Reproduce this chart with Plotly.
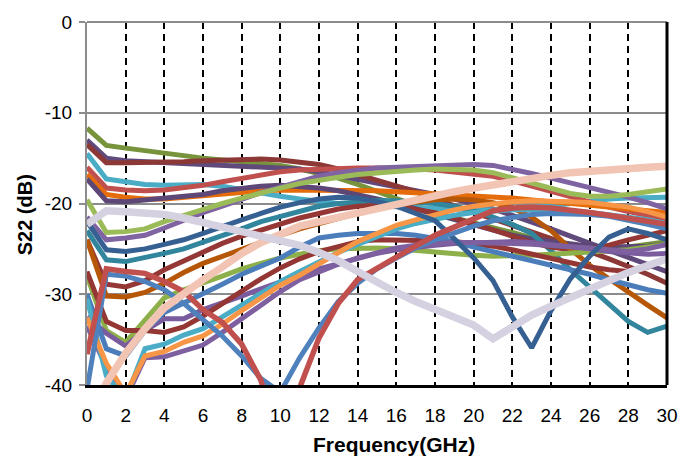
import plotly.graph_objects as go

freq = list(range(0, 31))
x_ticks = list(range(0, 31, 2))
y_ticks = [0, -10, -20, -30, -40]

s01 = [-11.7,-13.6,-13.9,-14.2,-14.5,-14.8,-15.0,-15.2,-15.4,-15.6,-15.8,-16.2,-16.7,-17.2,-17.9,-18.7,-19.5,-20.3,-21.0,-21.6,-22.1,-22.6,-23.2,-23.8,-24.3,-24.7,-25.0,-25.0,-24.8,-24.5,-24.2]
s02 = [-13.0,-15.0,-15.3,-15.4,-15.5,-15.5,-15.6,-15.7,-15.8,-15.9,-16.0,-16.2,-16.5,-16.9,-17.3,-17.8,-18.2,-18.6,-19.0,-19.5,-20.0,-20.6,-21.3,-22.0,-22.8,-23.6,-24.4,-25.2,-26.0,-26.8,-27.5]
s03 = [-13.5,-15.5,-15.5,-15.5,-15.4,-15.4,-15.3,-15.2,-15.1,-15.1,-15.2,-15.4,-15.7,-16.2,-16.8,-17.4,-18.0,-18.7,-19.5,-20.3,-21.0,-21.7,-22.4,-23.1,-23.8,-24.5,-25.3,-26.1,-26.9,-27.8,-28.8]
s04 = [-14.5,-17.3,-17.6,-17.9,-18.0,-17.9,-17.9,-18.1,-18.5,-18.8,-19.2,-19.5,-19.8,-20.0,-20.2,-20.3,-20.4,-20.5,-20.6,-20.7,-20.7,-20.7,-20.6,-20.5,-20.3,-20.0,-19.7,-19.5,-19.4,-19.3,-19.3]
s05 = [-16.0,-18.3,-18.5,-18.6,-18.5,-18.3,-18.0,-17.6,-17.2,-16.8,-16.5,-16.3,-16.2,-16.1,-16.1,-16.1,-16.1,-16.2,-16.3,-16.5,-16.7,-17.0,-17.5,-18.1,-18.7,-19.3,-19.9,-20.4,-20.9,-21.3,-21.7]
s06 = [-16.8,-19.0,-19.3,-19.5,-19.5,-19.3,-19.1,-18.9,-18.7,-18.6,-18.5,-18.5,-18.5,-18.5,-18.6,-18.6,-18.7,-18.8,-18.9,-19.0,-19.1,-19.2,-19.4,-19.6,-19.8,-20.0,-20.2,-20.4,-20.6,-20.8,-21.0]
s07 = [-17.3,-19.7,-19.8,-19.6,-19.4,-19.2,-19.0,-18.6,-18.3,-18.1,-18.0,-18.1,-18.3,-18.6,-19.0,-19.5,-20.0,-20.6,-21.2,-21.8,-22.4,-23.0,-23.5,-23.9,-24.2,-24.5,-24.7,-24.8,-24.8,-24.7,-24.5]
s08 = [-21.5,-24.0,-23.8,-23.5,-22.7,-21.8,-21.0,-20.3,-19.5,-18.8,-18.2,-17.6,-17.0,-16.6,-16.3,-16.1,-16.0,-15.9,-15.8,-15.7,-15.7,-15.8,-16.2,-16.7,-17.2,-17.7,-18.2,-18.7,-19.3,-19.9,-20.6]
s09 = [-19.6,-23.2,-23.1,-22.8,-22.0,-21.3,-20.6,-20.0,-19.4,-18.8,-18.3,-17.8,-17.4,-17.1,-16.8,-16.6,-16.4,-16.3,-16.2,-16.2,-16.3,-16.6,-17.2,-17.8,-18.4,-18.9,-19.2,-19.2,-19.0,-18.7,-18.4]
s10 = [-22.0,-25.1,-25.3,-25.0,-24.5,-24.0,-23.3,-22.5,-21.8,-21.1,-20.4,-19.9,-19.5,-19.3,-19.4,-19.8,-20.3,-21.1,-21.9,-23.9,-26.0,-28.5,-32.5,-35.9,-31.8,-28.3,-25.8,-23.7,-22.8,-23.3,-24.0]
s11 = [-23.0,-26.2,-26.4,-26.0,-25.5,-25.0,-24.3,-23.5,-22.8,-22.0,-21.4,-20.8,-20.3,-20.0,-19.8,-19.7,-19.7,-19.8,-20.0,-20.3,-20.8,-21.5,-22.3,-23.3,-25.2,-27.3,-29.2,-31.2,-33.0,-34.2,-33.5]
s12 = [-24.0,-28.9,-29.2,-28.5,-27.3,-26.3,-25.3,-24.4,-23.6,-22.9,-22.2,-21.6,-21.1,-20.6,-20.3,-20.2,-20.3,-20.6,-21.0,-21.6,-22.2,-22.9,-23.6,-24.3,-24.8,-25.1,-25.0,-24.6,-24.0,-23.5,-23.0]
s13 = [-24.0,-30.2,-30.3,-29.8,-28.8,-27.6,-26.6,-25.8,-25.0,-24.2,-23.5,-22.8,-22.2,-21.6,-21.0,-20.5,-20.1,-19.8,-19.6,-19.5,-19.6,-19.9,-20.5,-21.5,-23.0,-25.0,-26.8,-28.3,-29.8,-31.2,-32.6]
s14 = [-28.0,-34.0,-35.3,-32.8,-30.4,-29.5,-28.8,-28.0,-27.2,-26.6,-26.0,-25.6,-25.2,-25.0,-24.9,-24.9,-25.0,-25.2,-25.4,-25.6,-25.7,-25.8,-25.8,-25.7,-25.6,-25.5,-25.4,-25.3,-25.1,-24.8,-24.5]
s15 = [-32.5,-34.3,-35.7,-34.0,-32.7,-32.7,-31.7,-31.0,-30.2,-29.4,-28.6,-27.9,-27.2,-26.6,-26.0,-25.5,-25.1,-24.8,-24.6,-24.4,-24.3,-24.2,-24.2,-24.3,-24.5,-24.7,-25.0,-25.3,-25.5,-25.6,-25.5]
s16 = [-27.5,-33.0,-34.0,-34.0,-34.2,-33.6,-32.4,-31.0,-29.6,-28.3,-27.1,-26.1,-25.3,-24.7,-24.2,-24.0,-24.0,-24.0,-24.1,-24.2,-24.4,-24.7,-25.1,-25.6,-26.1,-26.6,-27.0,-27.3,-27.5,-27.0,-26.0]
s17 = [-36.6,-27.2,-27.5,-27.7,-28.6,-29.7,-31.7,-33.1,-35.5,-39.5,-47.0,-40.3,-34.8,-31.0,-28.4,-27.1,-25.9,-24.7,-23.5,-22.6,-21.7,-20.8,-20.5,-20.4,-20.5,-20.7,-21.0,-21.3,-21.6,-22.0,-22.3]
s18 = [-40.5,-27.8,-28.0,-28.6,-29.5,-31.0,-32.8,-34.6,-36.8,-39.3,-40.8,-37.0,-33.7,-30.8,-28.8,-27.2,-26.0,-24.9,-24.0,-23.2,-22.5,-21.9,-21.5,-21.2,-21.1,-21.1,-21.2,-21.4,-21.8,-22.3,-22.8]
s19 = [-32.6,-37.6,-41.0,-36.8,-36.3,-35.3,-34.6,-33.3,-31.8,-30.4,-29.0,-27.9,-26.6,-25.4,-24.2,-23.3,-22.4,-21.8,-21.2,-20.7,-20.3,-20.0,-19.8,-19.7,-19.7,-19.8,-19.9,-20.1,-20.4,-20.9,-21.5]
s20 = [-30.5,-39.0,-41.5,-36.0,-35.5,-34.5,-33.8,-32.5,-31.3,-30.0,-28.6,-27.5,-26.4,-25.4,-24.5,-23.6,-22.8,-22.2,-21.7,-21.3,-21.0,-20.8,-20.7,-20.7,-20.7,-20.8,-21.0,-21.2,-21.5,-21.8,-22.2]
s21 = [-33.5,-38.0,-41.5,-37.0,-36.9,-36.2,-35.6,-34.2,-32.7,-31.2,-29.7,-28.4,-27.5,-26.7,-26.0,-25.4,-24.9,-24.6,-24.4,-24.3,-24.3,-24.3,-24.4,-24.5,-24.6,-24.7,-24.9,-25.1,-25.3,-25.0,-24.5]
s22 = [-44.0,-39.8,-36.5,-33.8,-31.5,-29.9,-28.4,-27.0,-25.5,-24.3,-23.3,-22.5,-22.0,-21.5,-21.0,-20.5,-20.1,-19.6,-19.2,-18.7,-18.3,-17.9,-17.5,-17.2,-16.9,-16.6,-16.4,-16.2,-16.1,-16.0,-15.9]
s23 = [-22.3,-20.8,-20.9,-21.0,-21.2,-21.6,-22.1,-22.5,-23.0,-23.5,-24.0,-24.6,-25.4,-26.3,-27.5,-28.7,-29.8,-30.8,-31.6,-32.5,-33.4,-34.9,-33.5,-32.3,-31.3,-30.3,-29.3,-28.5,-27.6,-26.8,-26.1]
s24 = [-30.0,-36.0,-36.8,-34.0,-32.0,-31.0,-30.0,-28.9,-27.8,-26.9,-26.0,-24.8,-23.8,-23.5,-23.3,-23.3,-23.3,-23.5,-23.8,-24.2,-24.8,-25.3,-25.8,-26.3,-26.7,-27.2,-27.8,-28.4,-29.0,-29.5,-29.9]

# draw order: (values, colour, width)
series = [
    (s01, "#77933C", 5), (s02, "#604A7B", 5), (s03, "#8C3836", 5),
    (s04, "#4BACC6", 5), (s05, "#C0504D", 5), (s06, "#E46C0A", 5),
    (s07, "#5C4776", 5), (s08, "#8064A2", 5), (s09, "#9BBB59", 5),
    (s11, "#31859C", 5), (s12, "#953735", 5), (s13, "#B65708", 5),
    (s14, "#8DB04A", 5), (s15, "#7A5C9E", 5), (s16, "#943634", 5),
    (s24, "#4A7DBA", 5), (s21, "#7E60A0", 5), (s20, "#4BACC6", 5),
    (s19, "#F79646", 5), (s10, "#376092", 5), (s18, "#4F81BD", 5),
    (s17, "#C0504D", 5.5), (s22, "#F2C4B4", 7.5), (s23, "#D5D1E1", 7.5),
]

fig = go.Figure()
for vals, col, w in series:
    fig.add_trace(go.Scatter(x=freq, y=vals, mode="lines",
                             line=dict(color=col, width=w),
                             showlegend=False, hoverinfo="skip"))

font_family = "Liberation Sans, Arial, sans-serif"
fig.update_layout(
    width=694, height=457,
    margin=dict(l=87, r=27, t=17, b=72),
    paper_bgcolor="white", plot_bgcolor="white",
    font=dict(family=font_family, size=19, color="#000000"),
    showlegend=False,
    xaxis=dict(range=[0, 30], tickmode="array", tickvals=x_ticks,
               ticktext=[str(v) for v in x_ticks],
               showgrid=True, gridcolor="#000000", gridwidth=2,
               griddash="7px,5px", zeroline=False,
               showline=True, linecolor="#000000", linewidth=3,
               ticks="", ticklabelstandoff=11),
    yaxis=dict(range=[-40, 0], tickmode="array", tickvals=y_ticks,
               ticktext=[str(v) for v in y_ticks],
               showgrid=True, gridcolor="#8C8C8C", gridwidth=1.5,
               zeroline=False, showline=True, linecolor="#8C8C8C",
               linewidth=2, ticks="outside", ticklen=6,
               tickcolor="#8C8C8C", tickwidth=1.5, ticklabelstandoff=3),
    annotations=[
        dict(text="<b>Frequency(GHz)</b>", xref="paper", yref="paper",
             x=0.529, y=-0.163, xanchor="center", yanchor="middle",
             showarrow=False, font=dict(size=21)),
        dict(text="<b>S22 (dB)</b>", xref="paper", yref="paper",
             x=-0.107, y=0.47, xanchor="center", yanchor="middle",
             textangle=-90, showarrow=False, font=dict(size=20)),
    ],
)
# frame: grey top edge, black right edge
fig.add_shape(type="line", xref="paper", yref="paper", x0=0, x1=1, y0=1, y1=1,
              line=dict(color="#8C8C8C", width=2))
fig.add_shape(type="line", xref="paper", yref="paper", x0=1, x1=1, y0=0, y1=1,
              line=dict(color="#000000", width=3))

fig.write_html("out.html")
